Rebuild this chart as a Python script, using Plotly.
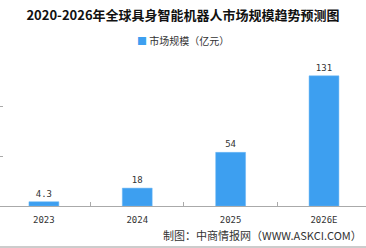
import plotly.graph_objects as go

years = ["2023", "2024", "2025", "2026E"]
market_size = [4.3, 18, 54, 131]
value_labels = ["4.3", "18", "54", "131"]
series_name = "市场规模（亿元）"
title_text = "2020-2026年全球具身智能机器人市场规模趋势预测图"
source_text = "制图：中商情报网（WWW.ASKCI.COM）"
bar_color = "#3d9ff0"

fig = go.Figure()
fig.add_trace(go.Bar(
    x=years, y=market_size, name=series_name,
    marker=dict(color=bar_color, line=dict(color="#6ab6f5", width=0.5)),
    width=0.32,
    text=value_labels, textposition="outside",
    textfont=dict(size=9, color="#333333", family="DejaVu Sans Mono"),
    cliponaxis=False, showlegend=False,
))

fig.update_layout(
    width=366, height=248,
    margin=dict(l=0, r=0, t=57, b=42),
    paper_bgcolor="white", plot_bgcolor="white",
    title=dict(text=title_text, x=0.5, xanchor="center", y=1 - 15 / 248, yanchor="middle",
               font=dict(size=13, color="#111111", family="Noto Sans CJK SC", weight="bold")),
    showlegend=False,
)
fig.update_xaxes(
    type="category", range=[-0.47, 3.45],
    showline=True, linecolor="#aaaaaa", linewidth=1,
    ticks="inside", tickson="boundaries", ticklen=4, tickcolor="#aaaaaa",
    tickfont=dict(size=9, color="#333333", family="DejaVu Sans Mono"),
    ticklabelstandoff=5,
    showgrid=False, zeroline=False,
)
fig.update_yaxes(
    range=[0, 150], tickvals=[50, 100, 150], showticklabels=False,
    ticks="inside", ticklen=3, tickcolor="#aaaaaa",
    showgrid=False, zeroline=False, showline=False,
)
# legend drawn as text: coloured square + series name
fig.add_annotation(
    text=f"<span style='color:{bar_color}'>■</span> {series_name}",
    xref="paper", yref="paper", x=0.5, y=(206 - 40) / 149,
    xanchor="center", yanchor="middle", showarrow=False,
    font=dict(size=10, color="#333333", family="Noto Sans CJK SC"),
)
fig.add_annotation(
    text=source_text, xref="paper", yref="paper",
    x=364 / 366, y=(206 - 235) / 149, xanchor="right", yanchor="middle",
    showarrow=False, font=dict(size=11, color="#333333", family="Noto Sans CJK SC"),
)
fig.add_shape(type="line", xref="paper", yref="paper",
              x0=0, x1=1, y0=(206 - 247) / 149, y1=(206 - 247) / 149,
              line=dict(color="#999999", width=1))

fig.write_html("out.html")
